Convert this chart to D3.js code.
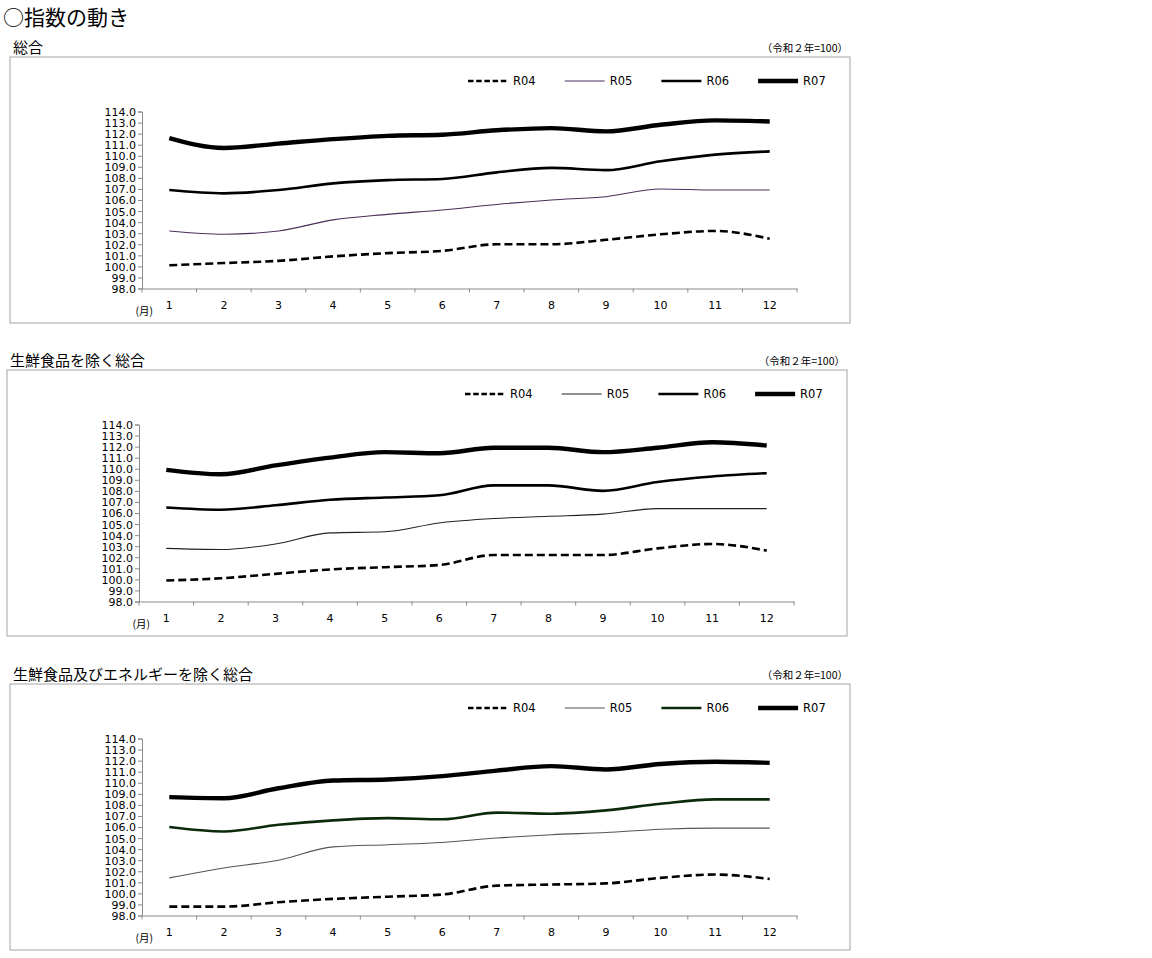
<!DOCTYPE html>
<html>
<head>
<meta charset="utf-8">
<script src="https://cdn.jsdelivr.net/npm/d3@7"></script>
<style>
  body { margin: 0; background: #fff; }
  svg text { fill: #000; }
</style>
</head>
<body>
<div id="app"></div>
<script>
// data
const months = ["1", "2", "3", "4", "5", "6", "7", "8", "9", "10", "11", "12"];
const seriesNames = ["R04", "R05", "R06", "R07"];
const yTicks = [98, 99, 100, 101, 102, 103, 104, 105, 106, 107, 108, 109, 110, 111, 112, 113, 114];

// 総合
const sogoR04 = [100.1, 100.3, 100.5, 100.9, 101.2, 101.4, 102.0, 102.0, 102.4, 102.9, 103.2, 102.5];
const sogoR05 = [103.2, 102.9, 103.2, 104.2, 104.7, 105.1, 105.6, 106.0, 106.3, 107.0, 106.9, 106.9];
const sogoR06 = [106.9, 106.6, 106.9, 107.5, 107.8, 107.9, 108.5, 108.9, 108.7, 109.5, 110.1, 110.4];
const sogoR07 = [111.6, 110.7, 111.1, 111.5, 111.8, 111.9, 112.3, 112.5, 112.2, 112.8, 113.2, 113.1];

// 生鮮食品を除く総合
const coreR04 = [99.9, 100.1, 100.5, 100.9, 101.1, 101.3, 102.2, 102.2, 102.2, 102.8, 103.2, 102.6];
const coreR05 = [102.8, 102.7, 103.2, 104.2, 104.3, 105.1, 105.5, 105.7, 105.9, 106.4, 106.4, 106.4];
const coreR06 = [106.5, 106.3, 106.7, 107.2, 107.4, 107.6, 108.5, 108.5, 108.0, 108.8, 109.3, 109.6];
const coreR07 = [109.9, 109.5, 110.3, 111.0, 111.5, 111.4, 111.9, 111.9, 111.5, 111.9, 112.4, 112.1];

// 生鮮食品及びエネルギーを除く総合
const coreCoreR04 = [98.8, 98.8, 99.2, 99.5, 99.7, 99.9, 100.7, 100.8, 100.9, 101.4, 101.7, 101.3];
const coreCoreR05 = [101.4, 102.3, 103.0, 104.2, 104.4, 104.6, 105.0, 105.3, 105.5, 105.8, 105.9, 105.9];
const coreCoreR06 = [106.0, 105.6, 106.2, 106.6, 106.8, 106.7, 107.3, 107.2, 107.5, 108.1, 108.5, 108.5];
const coreCoreR07 = [108.7, 108.6, 109.5, 110.2, 110.3, 110.6, 111.1, 111.5, 111.2, 111.7, 111.9, 111.8];

const w = 1152, h = 958;
const fontJP = "'Noto Sans CJK JP', sans-serif";
const fontNum = "'DejaVu Sans', Verdana, sans-serif";

const styles = {
  R04: { width: 2.6, dash: "8,4", legendDash: "5.5,2.7", color: "#000" },
  R05: { width: 1.1, dash: null, color: "#222" },
  R06: { width: 2.6, dash: null, color: "#000" },
  R07: { width: 4.4, dash: null, color: "#000" }
};

const svg = d3.select("#app")
  .append("svg")
  .attr("width", w)
  .attr("height", h);

svg.append("text")
  .attr("x", 3)
  .attr("y", 25)
  .attr("font-family", fontJP)
  .attr("font-size", 21)
  .text("○指数の動き");

const charts = [
  { title: "総合", x: 10, y: 57, series: [sogoR04, sogoR05, sogoR06, sogoR07],
    colors: { R05: "#4a2f5a" } },
  { title: "生鮮食品を除く総合", x: 7, y: 370, series: [coreR04, coreR05, coreR06, coreR07],
    colors: {} },
  { title: "生鮮食品及びエネルギーを除く総合", x: 10, y: 684, series: [coreCoreR04, coreCoreR05, coreCoreR06, coreCoreR07],
    colors: { R05: "#555", R06: "#0b2a0b" } }
];

charts.forEach(drawChart);

function drawChart(c) {
  const fw = 840, fh = 266;
  const g = svg.append("g").attr("transform", `translate(${c.x}, ${c.y})`);

  g.append("text")
    .attr("x", 3)
    .attr("y", -4)
    .attr("font-family", fontJP)
    .attr("font-size", 15)
    .text(c.title);

  g.append("text")
    .attr("x", fw - 2)
    .attr("y", -5)
    .attr("text-anchor", "end")
    .attr("font-family", fontJP)
    .attr("font-size", 10.5)
    .text("（令和２年=100）");

  g.append("rect")
    .attr("width", fw)
    .attr("height", fh)
    .attr("fill", "none")
    .attr("stroke", "#a3a3a3")
    .attr("stroke-width", 1);

  const left = 132, top = 54.5, pw = 655, ph = 177;

  const xScale = d3.scaleBand()
    .domain(months)
    .range([left, left + pw]);

  const yScale = d3.scaleLinear()
    .domain([98, 114])
    .range([top + ph, top]);

  // y axis
  const yAxis = d3.axisLeft(yScale)
    .tickValues(yTicks)
    .tickSize(4)
    .tickFormat(d3.format(".1f"));

  const yg = g.append("g")
    .attr("transform", `translate(${left}, 0)`)
    .call(yAxis);
  yg.select(".domain").attr("stroke", "#8c8c8c");
  yg.selectAll(".tick line").attr("stroke", "#8c8c8c");
  yg.selectAll(".tick text")
    .attr("font-family", fontNum)
    .attr("font-size", 11)
    .attr("x", -6)
    .attr("dy", "0.36em");

  // x axis: labels centred, ticks at boundaries
  const xAxis = d3.axisBottom(xScale).tickSize(0);
  const xg = g.append("g")
    .attr("transform", `translate(0, ${top + ph})`)
    .call(xAxis);
  xg.select(".domain").attr("stroke", "#8c8c8c");
  xg.selectAll(".tick text")
    .attr("font-family", fontNum)
    .attr("font-size", 11)
    .attr("y", 13);

  xg.selectAll("line.bound")
    .data(months.concat(["end"]))
    .enter()
    .append("line")
    .attr("class", "bound")
    .attr("x1", d => d === "end" ? xScale.range()[1] : xScale(d))
    .attr("x2", d => d === "end" ? xScale.range()[1] : xScale(d))
    .attr("y1", 0)
    .attr("y2", 4)
    .attr("stroke", "#8c8c8c");

  g.append("text")
    .attr("x", left + 11)
    .attr("y", top + ph + 26)
    .attr("text-anchor", "end")
    .attr("font-family", fontJP)
    .attr("font-size", 10.5)
    .text("(月)");

  // lines
  const line = d3.line()
    .x((d, i) => xScale(months[i]) + xScale.bandwidth() / 2)
    .y(d => yScale(d))
    .curve(d3.curveMonotoneX);

  seriesNames.forEach((name, i) => {
    const st = styles[name];
    g.append("path")
      .datum(c.series[i])
      .attr("fill", "none")
      .attr("stroke", c.colors[name] || st.color)
      .attr("stroke-width", st.width)
      .attr("stroke-dasharray", st.dash)
      .attr("stroke-linejoin", "round")
      .attr("d", line);
  });

  // legend
  const legend = g.append("g")
    .attr("transform", `translate(${fw - 382}, 24)`);

  const item = legend.selectAll("g")
    .data(seriesNames)
    .enter()
    .append("g")
    .attr("transform", (d, i) => `translate(${i * 96.7}, 0)`);

  item.append("line")
    .attr("x1", 0)
    .attr("x2", 40)
    .attr("stroke", d => c.colors[d] || styles[d].color)
    .attr("stroke-width", d => styles[d].width)
    .attr("stroke-dasharray", d => styles[d].legendDash || null);

  item.append("text")
    .attr("x", 45)
    .attr("dy", "0.36em")
    .attr("font-family", fontNum)
    .attr("font-size", 11.5)
    .text(d => d);
}
</script>
</body>
</html>
